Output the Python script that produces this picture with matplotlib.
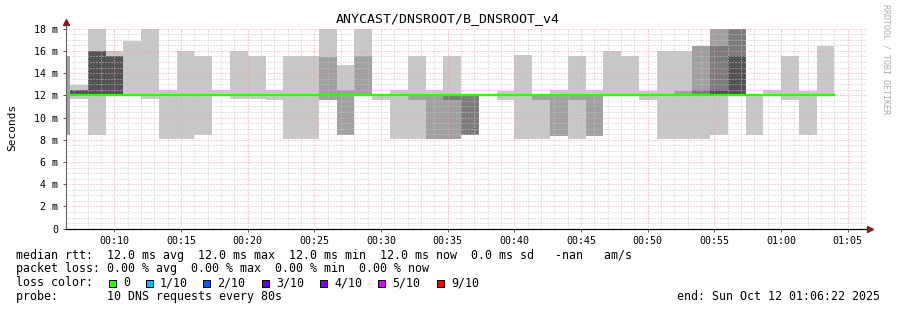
import numpy as np
import matplotlib
matplotlib.use("Agg")
from matplotlib import pyplot as plt
from matplotlib.patches import Rectangle
from matplotlib.ticker import MultipleLocator, FixedLocator, FuncFormatter

mono = 'DejaVu Sans Mono'

# smokeping bins: 80 s steps, first bin starts 00:05:20
bin_start_s = 320
bin_step_s = 80

# outer smoke band (lightest gray), ms; None = no data
light_lo = [None, 11.65, 8.46, 12.0, 12.0, 11.65, 8.04, 8.04, 8.46, 12.0, 11.65,
            11.65, 11.6, 8.04, 8.04, 11.6, 8.46, 12.0, 11.6, 8.04, 8.04, 8.04,
            8.04, None, None, 11.6, 8.04, 8.04, 8.34, 8.04, 8.37, 12.0, 12.0,
            11.6, 8.04, 8.04, 8.04, 8.46, None, 8.46, 12.0, 11.6, 8.46, 12.0]
light_hi = [None, 12.9, 18.3, 16.0, 16.9, 18.3, 12.45, 16.0, 15.57, 12.5, 16.0,
            15.57, 12.5, 15.57, 15.57, 18.3, 14.7, 18.3, 12.0, 12.5, 15.57, 12.5,
            15.57, None, None, 12.4, 15.6, 12.0, 12.45, 15.57, 12.45, 16.0, 15.55,
            12.4, 16.0, 16.0, 16.45, 18.3, None, 12.0, 12.5, 15.57, 12.4, 16.45]

# inner bands (bin index into the lists above)
mid_bins = [0, 15, 16, 17, 20, 21, 22, 27, 28, 29, 30, 35, 36, 37]
mid_lo = [8.46, 11.6, 8.46, 12.0, 11.6, 8.04, 8.04, 11.6, 8.34, 11.6, 8.37, 12.0, 12.0, 12.0]
mid_hi = [15.57, 15.45, 12.5, 15.55, 12.0, 12.0, 11.95, 12.0, 12.0, 12.0, 12.0, 12.4, 16.45, 18.3]

dark_bins = [22, 23, 36, 37, 38]
dark_lo = [11.6, 8.43, 12.0, 12.0, 12.0]
dark_hi = [11.95, 11.95, 12.5, 16.45, 18.3]

black_bins = [1, 2, 3, 37, 38]
black_lo = [12.12, 12.1, 12.0, 12.0, 12.0]
black_hi = [12.48, 16.0, 15.55, 12.5, 15.57]

median_ms = [12.0] * 44

loss_labels = ['0', '1/10', '2/10', '3/10', '4/10', '5/10', '9/10']
loss_colors = ['#26ff00', '#00b8ff', '#0059ff', '#5e00ff', '#7e00ff', '#dd00ff', '#ff0000']

title = 'ANYCAST/DNSROOT/B_DNSROOT_v4'
stat_lines = [
    'median rtt:  12.0 ms avg  12.0 ms max  12.0 ms min  12.0 ms now  0.0 ms sd   -nan   am/s',
    'packet loss: 0.00 % avg  0.00 % max  0.00 % min  0.00 % now',
    'loss color:',
    'probe:       10 DNS requests every 80s',
]
end_text = 'end: Sun Oct 12 01:06:22 2025'

W, H = 897, 310
fig = plt.figure(figsize=(W / 100, H / 100), dpi=100)
ax = fig.add_axes([66 / W, 81.3 / H, 800 / W, 200 / H])

width = bin_step_s / 60
starts = (bin_start_s + bin_step_s * np.arange(len(light_lo))) / 60


def draw_band(idx, lo, hi, color):
    lo = np.array(lo, dtype=float)
    hi = np.array(hi, dtype=float)
    ax.bar(starts[idx], hi - lo, width=width, bottom=lo, align='edge',
           color=color, linewidth=0, antialiased=False, zorder=1)


all_idx = np.arange(len(light_lo))
draw_band(all_idx, light_lo, light_hi, '#c8c8c8')
draw_band(np.array(mid_bins), mid_lo, mid_hi, '#a0a0a0')
draw_band(np.array(dark_bins), dark_lo, dark_hi, '#7c7c7c')
draw_band(np.array(black_bins), black_lo, black_hi, '#535353')

edges = np.append(starts, starts[-1] + width)
ax.step(edges, median_ms + [median_ms[-1]], where='post', color='#26ff00', lw=1.6, zorder=3)

ax.set_xlim(6 + 22 / 60, 66 + 22 / 60)
ax.set_ylim(0, 18)

# grid
ax.xaxis.set_minor_locator(MultipleLocator(1))
ax.xaxis.set_major_locator(FixedLocator(np.arange(10, 70, 5)))
ax.yaxis.set_minor_locator(MultipleLocator(0.5))
ax.yaxis.set_major_locator(FixedLocator(np.arange(0, 20, 2)))
ax.set_axisbelow(False)
ax.grid(which='minor', color='#c4c4c4', lw=0.72, linestyle=(0, (1, 2)), zorder=2)
ax.grid(which='major', color='#eca0a0', lw=0.72, linestyle=(0, (1, 2)), zorder=2.1)

ax.xaxis.set_major_formatter(FuncFormatter(lambda v, p: '%02d:%02d' % (int(round(v)) // 60, int(round(v)) % 60)))
ax.yaxis.set_major_formatter(FuncFormatter(lambda v, p: '0' if v == 0 else '%d m' % round(v)))
for lab in ax.get_xticklabels() + ax.get_yticklabels():
    lab.set_family(mono)
ax.tick_params(which='major', length=2.5, width=0.7, pad=3, color='#555555', labelsize=7.2)
ax.tick_params(which='minor', length=0)

for s in ax.spines.values():
    s.set_visible(False)
ax.plot([0, 0], [0, 1.035], transform=ax.transAxes, color='#606060', lw=0.8, clip_on=False, zorder=4)
ax.plot([0, 1.005], [0, 0], transform=ax.transAxes, color='black', lw=0.9, clip_on=False, zorder=4)
ax.plot([0], [1.035], marker='^', ms=4, color='#8b1a1a', transform=ax.transAxes, clip_on=False, zorder=5)
ax.plot([1.005], [0], marker='>', ms=4, color='#8b1a1a', transform=ax.transAxes, clip_on=False, zorder=5)

fig.text(448 / W, 1 - 19 / H, title, ha='center', va='center', fontsize=9.5, family=mono)
fig.text(12 / W, 1 - 127 / H, 'Seconds', rotation=90, ha='center', va='center', fontsize=8, family=mono)
fig.text(886 / W, 1 - 4 / H, 'RRDTOOL / TOBI OETIKER', rotation=-90, ha='center', va='top',
         fontsize=6, family=mono, color='#aaaaaa')

for i, line in enumerate(stat_lines):
    fig.text(16 / W, 1 - (255 + 13.8 * i) / H, line, ha='left', va='center', fontsize=8.4, family=mono)
fig.text(880 / W, 1 - 296.4 / H, end_text, ha='right', va='center', fontsize=8.4, family=mono)

box_x = [109, 146, 203, 262, 320, 378, 437]
for bx, lab, col in zip(box_x, loss_labels, loss_colors):
    fig.patches.append(Rectangle((bx / W, 1 - 286.5 / H), 7 / W, 7 / H, transform=fig.transFigure,
                                 facecolor=col, edgecolor='black', lw=0.7))
    fig.text((bx + 14) / W, 1 - 282.8 / H, lab, ha='left', va='center', fontsize=8.4, family=mono)

fig.savefig('out.png', dpi=100)
